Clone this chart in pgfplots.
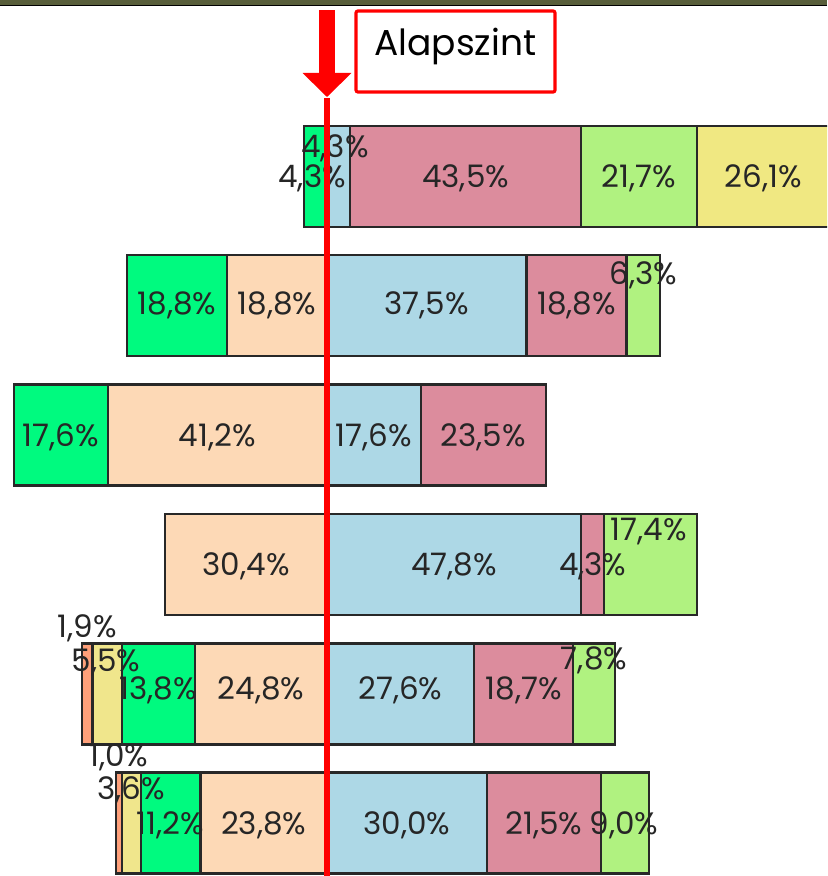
\documentclass[border=0pt]{standalone}
\usepackage{pgfplots}
\pgfplotsset{compat=1.18}
\usepackage{fontspec}
\setmainfont{Poppins}

\definecolor{cSalmon}{RGB}{255,160,122}
\definecolor{cKhaki}{RGB}{240,230,140}
\definecolor{cGreen}{RGB}{0,250,127}
\definecolor{cPeach}{RGB}{253,217,182}
\definecolor{cBlue}{RGB}{173,216,230}
\definecolor{cPink}{RGB}{220,140,157}
\definecolor{cLight}{RGB}{176,242,128}
\definecolor{cYellow}{RGB}{240,232,130}
\definecolor{cOlive}{RGB}{88,94,58}
\definecolor{barline}{RGB}{40,40,40}

\tikzset{lbl/.style={font=\fontsize{15.5pt}{17pt}\selectfont, text=black!85, inner sep=0pt}}

\begin{document}
\begin{tikzpicture}
\path[use as bounding box, clip] (0,0) rectangle (413.5pt,438pt);
\begin{axis}[
    at={(0,0)}, anchor=south west,
    scale only axis,
    width=413.5pt, height=438pt,
    xmin=-61.47, xmax=93.98,
    ymin=0, ymax=876,
    hide axis,
    xbar stacked,
    bar width=101,
    every axis plot/.append style={draw=barline, line width=1.1pt},
]
% negative side, from the baseline outwards
\addplot[fill=cPeach] coordinates {(-0.001,699.5) (-18.8,570.5) (-41.2,441) (-30.4,311.5) (-24.8,182) (-23.8,53)};
\addplot[fill=cGreen] coordinates {(-4.3,699.5) (-18.8,570.5) (-17.6,441) (-0.001,311.5) (-13.8,182) (-11.2,53)};
\addplot[fill=cKhaki] coordinates {(-0.001,699.5) (-0.001,570.5) (-0.001,441) (-0.001,311.5) (-5.5,182) (-3.6,53)};
\addplot[fill=cSalmon] coordinates {(-0.001,699.5) (-0.001,570.5) (-0.001,441) (-0.001,311.5) (-1.9,182) (-1.0,53)};
% positive side
\addplot[fill=cBlue] coordinates {(4.3,699.5) (37.5,570.5) (17.6,441) (47.8,311.5) (27.6,182) (30.0,53)};
\addplot[fill=cPink] coordinates {(43.5,699.5) (18.8,570.5) (23.5,441) (4.3,311.5) (18.7,182) (21.5,53)};
\addplot[fill=cLight] coordinates {(21.7,699.5) (6.3,570.5) (0,441) (17.4,311.5) (7.8,182) (9.0,53)};
\addplot[fill=cYellow] coordinates {(26.1,699.5) (0,570.5) (0,441) (0,311.5) (0,182) (0,53)};
\end{axis}

% same units as the axis: x in percent (0 at the baseline), y in pixels from the bottom
\begin{scope}[x=2.66pt, y=0.5pt, shift={(163.5pt,0pt)}]
% data labels
\node[lbl] at (-2.8,698) {4,3\%};
\node[lbl] at (1.5,728) {4,3\%};
\node[lbl] at (26.05,698) {43,5\%};
\node[lbl] at (58.65,698) {21,7\%};
\node[lbl] at (82,698) {26,1\%};

\node[lbl] at (-28.2,571) {18,8\%};
\node[lbl] at (-9.4,571) {18,8\%};
\node[lbl] at (18.75,571) {37,5\%};
\node[lbl] at (46.9,571) {18,8\%};
\node[lbl] at (59.45,601) {6,3\%};

\node[lbl] at (-50,439) {17,6\%};
\node[lbl] at (-20.6,439) {41,2\%};
\node[lbl] at (8.8,439) {17,6\%};
\node[lbl] at (29.35,439) {23,5\%};

\node[lbl] at (-15.2,310) {30,4\%};
\node[lbl] at (23.9,310) {47,8\%};
\node[lbl] at (49.95,310) {4,3\%};
\node[lbl] at (60.5,344) {17,4\%};

\node[lbl] at (-45.1,248) {1,9\%};
\node[lbl] at (-41.5,214) {5,5\%};
\node[lbl] at (-31.7,186) {13,8\%};
\node[lbl] at (-12.4,186) {24,8\%};
\node[lbl] at (13.8,186) {27,6\%};
\node[lbl] at (36.95,186) {18,7\%};
\node[lbl] at (50.2,216) {7,8\%};

\node[lbl] at (-39.1,119) {1,0\%};
\node[lbl] at (-36.8,86) {3,6\%};
\node[lbl] at (-29.4,51) {11,2\%};
\node[lbl] at (-11.9,51) {23,8\%};
\node[lbl] at (15,51) {30,0\%};
\node[lbl] at (40.75,51) {21,5\%};
\node[lbl] at (55.8,51) {9,0\%};

% baseline marker
\draw[red, line width=3pt] (0,778) -- (0,0);
\fill[red] (-1.5,866) rectangle (1.5,803);
\fill[red] (-4.6,803) -- (4.6,803) -- (0,779) -- cycle;
\draw[red, line width=1.6pt, rounded corners=1pt] (5.45,865) rectangle (42.86,784);
\node[font=\fontsize{18pt}{20pt}\selectfont, inner sep=0pt, text=black] at (24.1,829) {Alapszint};

% strip of the window frame at the top
\fill[cOlive] (-61.47,871) rectangle (93.98,876);
\fill[black] (-61.47,869.5) rectangle (93.98,871);
\end{scope}
\end{tikzpicture}
\end{document}
